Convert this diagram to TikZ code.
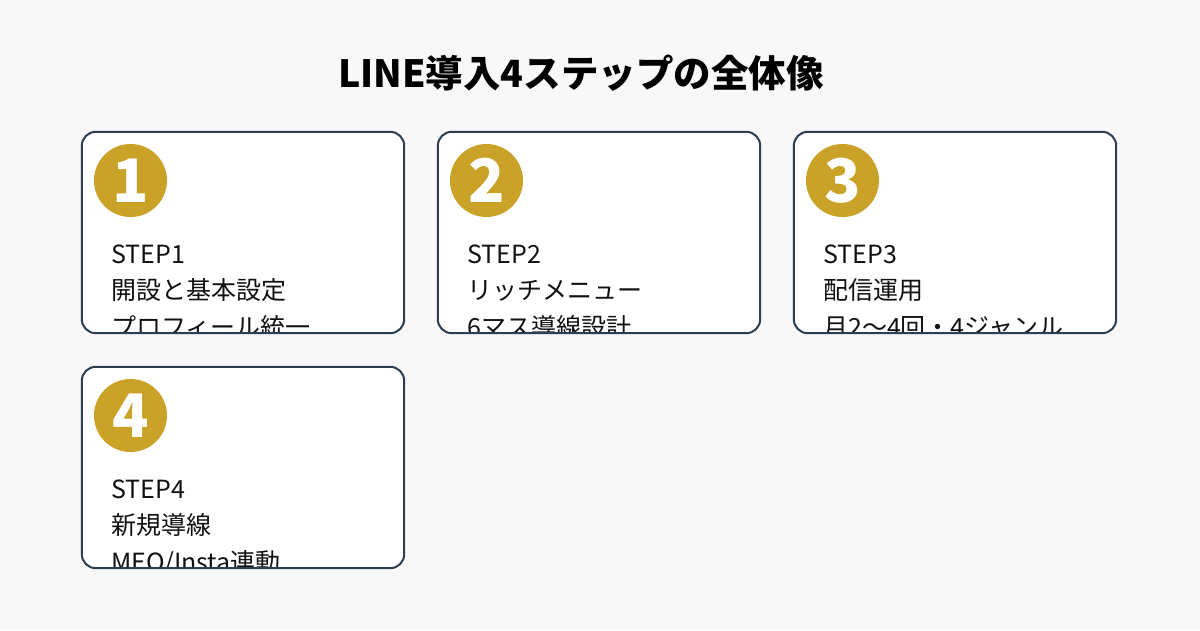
\documentclass[tikz,border=0pt]{standalone}
\usepackage{fontspec}
\setmainfont{Noto Sans CJK JP}
\definecolor{bg}{HTML}{F8F8F8}
\definecolor{navy}{HTML}{2C3E50}
\definecolor{gold}{HTML}{C9A227}
\definecolor{ink}{HTML}{111111}
\begin{document}
\begin{tikzpicture}[x=1pt,y=-1pt,
  cardfill/.style={rectangle, fill=white, rounded corners=14pt, minimum width=322pt, minimum height=201pt, inner sep=0pt},
  cardline/.style={draw=navy, line width=2pt, rounded corners=14pt},
  badge/.style={circle, fill=gold, minimum size=73pt, inner sep=0pt, text=white,
    font=\fontsize{60}{60}\selectfont\bfseries, text height=44pt, text depth=0pt},
  body/.style={anchor=base west, inner sep=0pt, align=left, text=ink,
    font=\fontsize{25}{36.5}\selectfont},
  heading/.style={anchor=base, inner sep=0pt, text=black,
    font=\fontsize{37.5}{40}\selectfont\bfseries}]
\fill[bg] (0,0) rectangle (1200,630);
\useasboundingbox (0,0) rectangle (1200,630);
\node[heading] (title) at (581,87) {LINE導入4ステップの全体像};
% card 1 (text anchor = baseline of last line)
\node[cardfill] (b1) at (243,232.5) {};
\begin{scope}
\clip[rounded corners=14pt] (b1.south west) rectangle (b1.north east);
\node[body] (t1) at (111,336) {STEP1\\開設と基本設定\\プロフィール統一};
\end{scope}
\draw[cardline] (b1.south west) rectangle (b1.north east);
\node[badge] (n1) at (130.5,180.5) {1};
% card 2
\node[cardfill] (b2) at (599,232.5) {};
\begin{scope}
\clip[rounded corners=14pt] (b2.south west) rectangle (b2.north east);
\node[body] (t2) at (467,336) {STEP2\\リッチメニュー\\6マス導線設計};
\end{scope}
\draw[cardline] (b2.south west) rectangle (b2.north east);
\node[badge] (n2) at (486.5,180.5) {2};
% card 3
\node[cardfill] (b3) at (955,232.5) {};
\begin{scope}
\clip[rounded corners=14pt] (b3.south west) rectangle (b3.north east);
\node[body] (t3) at (823,336) {STEP3\\配信運用\\月2〜4回・4ジャンル};
\end{scope}
\draw[cardline] (b3.south west) rectangle (b3.north east);
\node[badge] (n3) at (842.5,180.5) {3};
% card 4
\node[cardfill] (b4) at (243,467.5) {};
\begin{scope}
\clip[rounded corners=14pt] (b4.south west) rectangle (b4.north east);
\node[body] (t4) at (111,571) {STEP4\\新規導線\\MEO/Insta連動};
\end{scope}
\draw[cardline] (b4.south west) rectangle (b4.north east);
\node[badge] (n4) at (130.5,415.5) {4};
\end{tikzpicture}
\end{document}
